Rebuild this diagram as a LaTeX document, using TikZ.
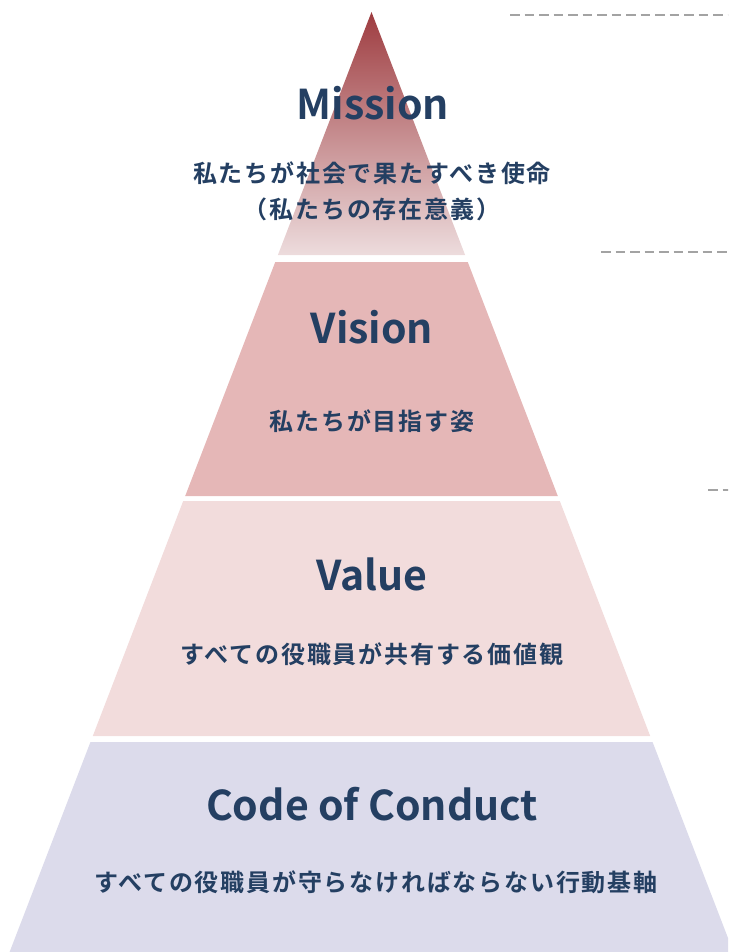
\documentclass[tikz,border=0pt]{standalone}
\usepackage{fontspec}
\setmainfont{Noto Sans CJK JP Bold}
\newfontfamily\jpfont{Noto Sans CJK JP Bold}[LetterSpace=7.5]
\definecolor{navy}{HTML}{243F62}
\definecolor{mtop}{HTML}{9E3C40}
\definecolor{mbot}{HTML}{EDDCDD}
\definecolor{vis}{HTML}{E5B7B7}
\definecolor{val}{HTML}{F2DCDC}
\definecolor{coc}{HTML}{DCDBEB}
\definecolor{dashgray}{HTML}{A3A3A3}
\tikzset{
  title/.style={text=navy, anchor=base, font=\fontsize{41}{46}\selectfont, inner sep=0pt},
  sub/.style={text=navy, anchor=center, align=center, font=\jpfont\fontsize{24}{36}\selectfont, inner sep=0pt},
  guide/.style={draw=dashgray, line width=2.3pt, dash pattern=on 9.5pt off 5pt}
}
\begin{document}
\begin{tikzpicture}[x=1pt,y=-1pt]
\useasboundingbox (0,0) rectangle (728,952);
\clip (0,0) rectangle (728,952);
% layers
\shade[top color=mtop, bottom color=mbot] (371.5,12) -- (465.1,255) -- (277.9,255) -- cycle;
\fill[vis] (275.25,262) -- (467.75,262) -- (557.8,496) -- (185.2,496) -- cycle;
\fill[val] (183.2,501) -- (559.8,501) -- (650.2,736) -- (92.8,736) -- cycle;
\fill[coc] (90.45,742) -- (652.55,742) -- (733.4,952) -- (9.6,952) -- cycle;
% dashed guides
\coordinate (g1a) at (510,15);  \coordinate (g1b) at (740,15);
\coordinate (g2a) at (601,252); \coordinate (g2b) at (740,252);
\coordinate (g3a) at (708,490); \coordinate (g3b) at (740,490);
\draw[guide] (g1a) -- (g1b);
\draw[guide] (g2a) -- (g2b);
\draw[guide] (g3a) -- (g3b);
% texts
\node[title] (mission) at (373,120) {Mission};
\node[sub] (missionsub) at (372,191) {私たちが社会で果たすべき使命\\（私たちの存在意義）};
\node[title] (vision) at (372,343) {Vision};
\node[sub] (visionsub) at (372,421) {私たちが目指す姿};
\node[title] (value) at (372,590) {Value};
\node[sub] (valuesub) at (372,654) {すべての役職員が共有する価値観};
\node[title] (code) at (372,820) {Code of Conduct};
\node[sub] (codesub) at (376,882) {すべての役職員が守らなければならない行動基軸};
\end{tikzpicture}
\end{document}
